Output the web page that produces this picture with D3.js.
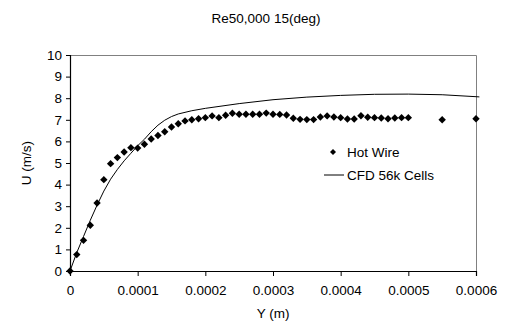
<!DOCTYPE html>
<html>
<head>
<meta charset="utf-8">
<script src="https://cdn.jsdelivr.net/npm/d3@7"></script>
<style>
  body { margin: 0; background: white; }
  text { font-family: "Liberation Sans", Arial, sans-serif; }
</style>
</head>
<body>
<div id="figure"></div>
<script>
// hot wire measurements
const hotWireY = [0, 0.00001, 0.00002, 0.00003, 0.00004, 0.00005, 0.00006, 0.00007, 0.00008, 0.00009,
  0.0001, 0.00011, 0.00012, 0.00013, 0.00014, 0.00015, 0.00016, 0.00017, 0.00018, 0.00019,
  0.0002, 0.00021, 0.00022, 0.00023, 0.00024, 0.00025, 0.00026, 0.00027, 0.00028, 0.00029,
  0.0003, 0.00031, 0.00032, 0.00033, 0.00034, 0.00035, 0.00036, 0.00037, 0.00038, 0.00039,
  0.0004, 0.00041, 0.00042, 0.00043, 0.00044, 0.00045, 0.00046, 0.00047, 0.00048, 0.00049,
  0.0005, 0.00055, 0.0006]
const hotWireU = [0, 0.76, 1.42, 2.12, 3.15, 4.23, 4.97, 5.25, 5.51, 5.71,
  5.69, 5.87, 6.11, 6.27, 6.45, 6.67, 6.82, 6.95, 7.0, 7.05,
  7.1, 7.18, 7.1, 7.21, 7.3, 7.26, 7.26, 7.26, 7.26, 7.31,
  7.26, 7.25, 7.22, 7.07, 7.02, 7.01, 7.01, 7.13, 7.18, 7.13,
  7.1, 7.04, 7.04, 7.19, 7.12, 7.1, 7.08, 7.05, 7.08, 7.1,
  7.1, 7.0, 7.05]

// CFD 56k cells
const cfdY = [0, 0.00001, 0.00002, 0.00003, 0.00004, 0.00005, 0.00006, 0.00007, 0.00008, 0.00009,
  0.0001, 0.00011, 0.00012, 0.00013, 0.00014, 0.00015, 0.00016, 0.00018, 0.0002, 0.00025,
  0.0003, 0.00035, 0.0004, 0.00045, 0.0005, 0.00055, 0.0006, 0.000605]
const cfdU = [0, 0.85, 1.6, 2.35, 3.05, 3.7, 4.25, 4.7, 5.1, 5.45,
  5.8, 6.1, 6.45, 6.75, 6.98, 7.15, 7.27, 7.42, 7.53, 7.75,
  7.93, 8.05, 8.13, 8.18, 8.19, 8.16, 8.07, 8.06]

const xTicks = [0, 0.0001, 0.0002, 0.0003, 0.0004, 0.0005, 0.0006]
const yTicks = [0, 1, 2, 3, 4, 5, 6, 7, 8, 9, 10]

const width = 509
const height = 324
const margin = { TOP: 55, LEFT: 70, RIGHT: 33, BOTTOM: 53 }

const svg = d3.select('#figure').append('svg')
  .attr('width', width).attr('height', height).attr('style', 'background:white')

const scaleX = d3.scaleLinear().domain([0, 0.0006]).range([margin.LEFT, width - margin.RIGHT])
const scaleY = d3.scaleLinear().domain([0, 10]).range([height - margin.BOTTOM, margin.TOP])

// plot area border (grey, top and right)
svg.append('path')
  .attr('d', `M${scaleX(0)},${scaleY(10) + 0.5}H${scaleX(0.0006) + 0.5}V${scaleY(0)}`)
  .attr('fill', 'none').attr('stroke', '#808080').attr('stroke-width', 1)

// axes
const axisBottom = d3.axisBottom(scaleX).tickValues(xTicks).tickSize(5).tickPadding(9)
  .tickFormat(d => d === 0 ? '0' : d3.format('.4f')(d))
const axisLeft = d3.axisLeft(scaleY).tickValues(yTicks).tickSize(4).tickPadding(4)

const gx = svg.append('g').attr('transform', `translate(0,${scaleY(0)})`).call(axisBottom)
const gy = svg.append('g').attr('transform', `translate(${scaleX(0)},0)`).call(axisLeft)

;[gx, gy].forEach(g => {
  g.select('.domain').attr('stroke', 'black').attr('stroke-width', 1.2)
  g.selectAll('.tick line').attr('stroke', 'black')
  g.selectAll('.tick text').attr('font-size', 13.5).attr('fill', 'black')
    .attr('font-family', '"Liberation Sans", Arial, sans-serif')
})

// CFD line
const line = d3.line().x((d, i) => scaleX(cfdY[i])).y(d => scaleY(d))
svg.append('path').datum(cfdU).attr('d', line)
  .attr('fill', 'none').attr('stroke', 'black').attr('stroke-width', 1)

// hot wire diamonds
const diamond = 'M0,-3.7L3.7,0L0,3.7L-3.7,0Z'
svg.append('g').selectAll('path').data(hotWireU).enter().append('path')
  .attr('d', diamond)
  .attr('transform', (d, i) => `translate(${scaleX(hotWireY[i])},${scaleY(d)})`)
  .attr('fill', 'black')

// title
svg.append('text').text('Re50,000 15(deg)')
  .attr('x', 266).attr('y', 23).attr('text-anchor', 'middle').attr('font-size', 13.5)

// axis titles
svg.append('text').text('Y (m)')
  .attr('x', scaleX(0.0003)).attr('y', 318).attr('text-anchor', 'middle').attr('font-size', 13.5)
svg.append('text').text('U (m/s)')
  .attr('transform', `translate(31,${scaleY(5)}) rotate(-90)`)
  .attr('text-anchor', 'middle').attr('font-size', 13.5)

// legend
const legend = svg.append('g')
legend.append('path').attr('d', 'M0,-3L3,0L0,3L-3,0Z')
  .attr('transform', 'translate(333,152)').attr('fill', 'black')
legend.append('text').text('Hot Wire').attr('x', 347).attr('y', 157).attr('font-size', 13.5)
legend.append('line').attr('x1', 324).attr('x2', 344).attr('y1', 175).attr('y2', 175)
  .attr('stroke', 'black')
legend.append('text').text('CFD 56k Cells').attr('x', 347).attr('y', 180).attr('font-size', 13.5)
</script>
</body>
</html>
